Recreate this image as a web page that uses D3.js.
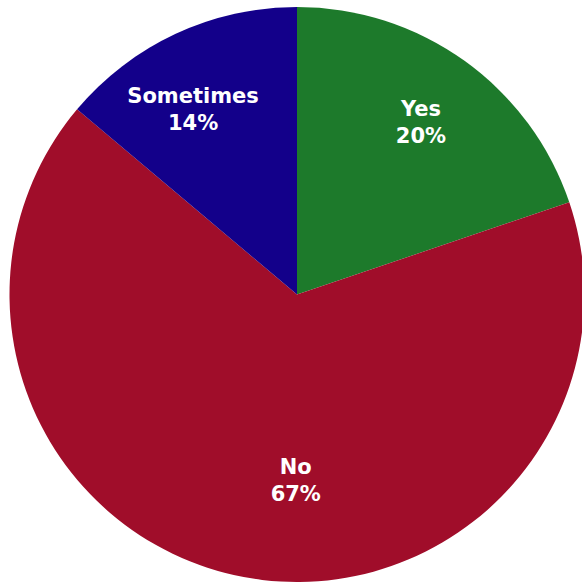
<!DOCTYPE html>
<html>
<head>
<meta charset="utf-8">
<script src="https://cdn.jsdelivr.net/npm/d3@7"></script>
<style>
  html, body { margin: 0; padding: 0; background: #ffffff; }
  svg { display: block; }
</style>
</head>
<body>
<svg id="chart" width="582" height="582"></svg>
<script>
// Survey answers, clockwise from 12 o'clock
const categories = ["Yes", "No", "Sometimes"];
const percents = [20, 67, 14];
const colors = ["#1d7a2b", "#a00d2a", "#13008a"];

const width = 582, height = 582;
const cx = 297, cy = 294.5, radius = 287.5;

const svg = d3.select("#chart");
const g = svg.append("g").attr("transform", `translate(${cx},${cy})`);

const pie = d3.pie().sort(null).value(d => d.value);
const arcs = pie(categories.map((c, i) => ({ name: c, value: percents[i], color: colors[i] })));

const arc = d3.arc().innerRadius(0).outerRadius(radius);

g.selectAll("path.slice")
  .data(arcs)
  .join("path")
  .attr("class", "slice")
  .attr("d", arc)
  .attr("fill", d => d.data.color);

// label placement: radius factor and angular nudge (radians) per slice
const labelRadius = [0.74, 0.645, 0.74];
const labelNudge = [0, -0.18, -0.075];

const labels = g.selectAll("g.label")
  .data(arcs)
  .join("g")
  .attr("class", "label")
  .attr("transform", (d, i) => {
    const a = (d.startAngle + d.endAngle) / 2 + labelNudge[i];
    const r = radius * labelRadius[i];
    return `translate(${r * Math.sin(a)},${-r * Math.cos(a)})`;
  });

labels.append("text")
  .attr("text-anchor", "middle")
  .attr("font-family", "'DejaVu Sans', Verdana, sans-serif")
  .attr("font-weight", "bold")
  .attr("font-size", 21)
  .attr("fill", "#ffffff")
  .selectAll("tspan")
  .data(d => [d.data.name, d.data.value + "%"])
  .join("tspan")
  .attr("x", 0)
  .attr("y", (t, j) => j === 0 ? -6 : 21)
  .text(t => t);
</script>
</body>
</html>
